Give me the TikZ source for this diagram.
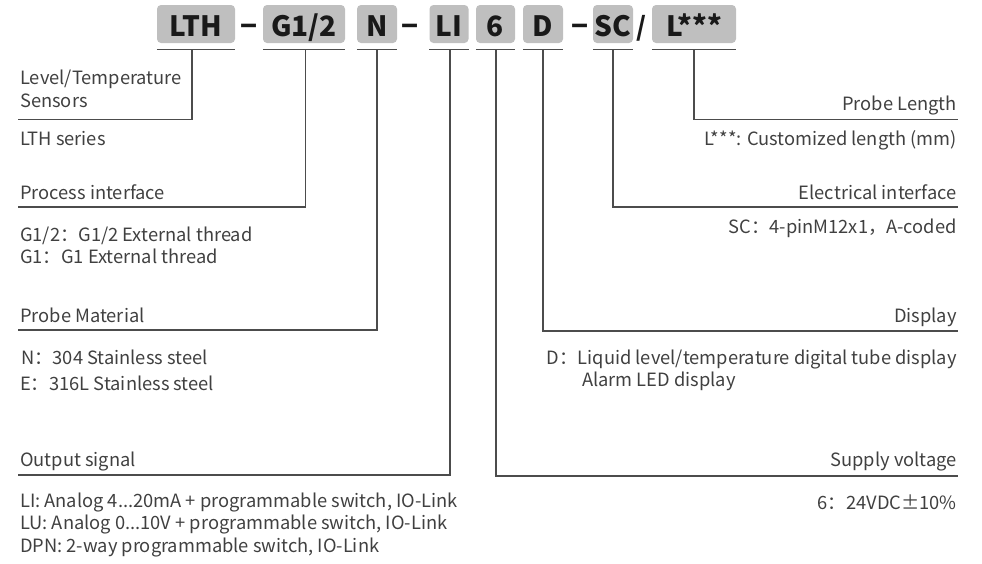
\documentclass[tikz,border=0pt]{standalone}
\usepackage{fontspec}
\setmainfont{Noto Sans CJK SC}
\usetikzlibrary{positioning}

\begin{document}
\begin{tikzpicture}[
  x=1pt, y=-1pt,
  font=\fontsize{18.3}{22}\selectfont,
  text=black!75,
  code/.style={fill=black!25, rounded corners=4pt, minimum height=38pt, inner sep=0pt, text height=24pt, text depth=0pt, font=\fontsize{28}{28}\selectfont\bfseries, text=black!90},
  sep/.style={anchor=base, inner sep=0pt, font=\fontsize{28}{28}\selectfont\bfseries, text=black!90},
  lead/.style={draw=black!70, line width=1.1pt},
  lname/.style={anchor=base west, inner sep=0pt},
  rname/.style={anchor=base east, inner sep=0pt},
  ldesc/.style={anchor=base west, inner sep=0pt},
  rdesc/.style={anchor=base east, inner sep=0pt}
]
\useasboundingbox (0,0) rectangle (982,563);

% order code
\node[code, minimum width=78pt] (lth) at (196,24) {LTH};
\node[sep] (dash1) at (249.5,36) {−};
\node[code, minimum width=82pt] (thread) at (304,24) {G1/2};
\node[code, minimum width=40pt] (mat) at (377,24) {N};
\node[sep] (dash2) at (410.5,36) {−};
\node[code, minimum width=39pt] (out) at (449,24) {LI};
\node[code, minimum width=39pt] (volt) at (495.5,24) {6};
\node[code, minimum width=40pt] (disp) at (543,24) {D};
\node[sep] (dash3) at (580.5,36) {−};
\node[code, minimum width=40pt] (conn) at (613,24) {SC};
\node[sep, font=\fontsize{26}{26}\selectfont\bfseries] (slash) at (641,36) {/};
\node[code, minimum width=84pt] (len) at (694,24) {L***};

\foreach \c in {lth,thread,mat,out,volt,disp,conn,len}
  \draw[lead] ([yshift=-6pt]\c.south west) -- ([yshift=-6pt]\c.south east);

% left side
\node[lname] (tser) at (20,84) {Level/Temperature};
\node[lname] (tser2) at (20,107) {Sensors};
\node[ldesc] (dser) at (20,145) {LTH series};
\node[lname] (tthread) at (20,199) {Process interface};
\node[ldesc] (dthread) at (20,241.5) {G1/2：G1/2 External thread};
\node[ldesc] (dthread2) at (20,263.5) {G1：G1 External thread};
\node[lname] (tmat) at (20,322) {Probe Material};
\node[ldesc] (dmat) at (21,364) {N：304 Stainless steel};
\node[ldesc] (dmat2) at (20,390) {E：316L Stainless steel};
\node[lname] (tout) at (20,466) {Output signal};
\node[ldesc] (dout) at (20,507) {LI: Analog 4...20mA + programmable switch, IO-Link};
\node[ldesc] (dout2) at (20,529.5) {LU: Analog 0...10V + programmable switch, IO-Link};
\node[ldesc] (dout3) at (20,552) {DPN: 2-way programmable switch, IO-Link};

% right side
\node[rname] (tlen) at (957,110) {Probe Length};
\node[rdesc] (dlen) at (957,145) {L***: Customized length (mm)};
\node[rname] (tconn) at (957,199) {Electrical interface};
\node[rdesc] (dconn) at (957,233) {SC：4-pinM12x1，A-coded};
\node[rname] (tdisp) at (957,322) {Display};
\node[rdesc] (ddisp) at (957,364) {D：Liquid level/temperature digital tube display};
\node[ldesc] (ddisp2) at (582,386) {Alarm LED display};
\node[rname] (tvolt) at (957,466) {Supply voltage};
\node[rdesc] (dvolt) at (957,509) {6：24VDC±10\%};

% line ends
\coordinate (eser) at (18,119.5);
\coordinate (ethread) at (18,207);
\coordinate (emat) at (18,330);
\coordinate (eout) at (18,475);
\coordinate (elen) at (958,119.5);
\coordinate (econn) at (958,207);
\coordinate (edisp) at (958,331);
\coordinate (evolt) at (958,476);

\draw[lead] ([xshift=-4pt,yshift=-6pt]lth.south) |- (eser);
\draw[lead] ([xshift=1.5pt,yshift=-6pt]thread.south) |- (ethread);
\draw[lead] ([yshift=-6pt]mat.south) |- (emat);
\draw[lead] ([xshift=1pt,yshift=-6pt]out.south) |- (eout);
\draw[lead] ([xshift=0.5pt,yshift=-6pt]volt.south) |- (evolt);
\draw[lead] ([yshift=-6pt]disp.south) |- (edisp);
\draw[lead] ([yshift=-6pt]conn.south) |- (econn);
\draw[lead] ([yshift=-6pt]len.south) |- (elen);
\end{tikzpicture}
\end{document}
